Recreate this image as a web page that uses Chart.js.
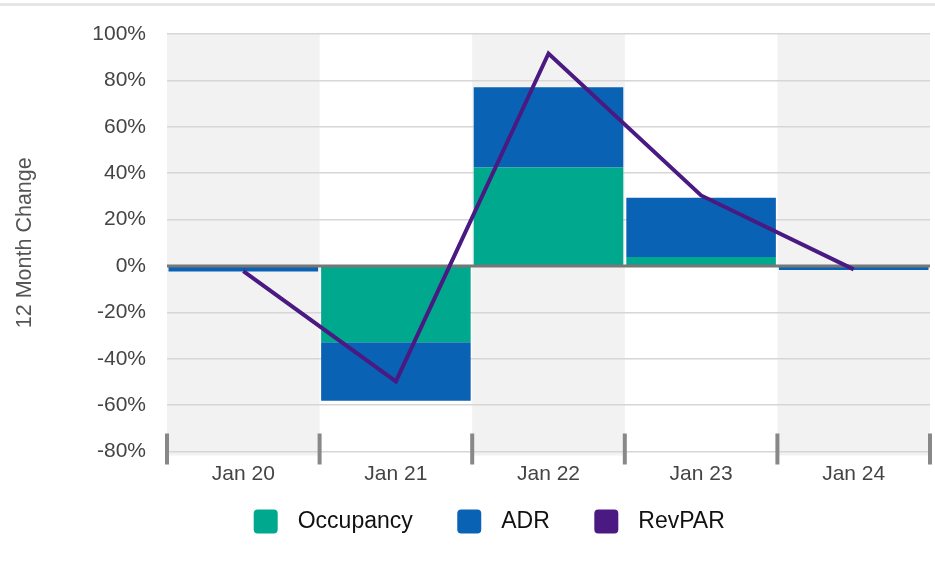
<!DOCTYPE html>
<html>
<head>
<meta charset="utf-8">
<script src="https://cdn.jsdelivr.net/npm/chart.js@4"></script>
<style>
  html, body { margin: 0; padding: 0; background: #fff; }
  #wrap { position: relative; width: 935px; height: 567px; }
  #topLine { position: absolute; left: 0; top: 3px; width: 935px; height: 3px; background: #e6e6e6; }
  canvas { position: absolute; left: 0; top: 0; }
</style>
</head>
<body>
<div id="wrap">
  <div id="topLine"></div>
  <canvas id="myChart" width="935" height="567"></canvas>
</div>
<script>
// 데이터
const categories = ["Jan 20", "Jan 21", "Jan 22", "Jan 23", "Jan 24"];
const occupancy = [0.2, -32.9, 42.4, 3.9, 0.2];
const adr = [-2.4, -25.2, 34.6, 25.5, -1.7];
const revpar = [-2.2, -49.8, 91.6, 30.4, -1.5];
const yTicks = [-80, -60, -40, -20, 0, 20, 40, 60, 80, 100];

const FONT = '"Liberation Sans", Arial, Helvetica, sans-serif';

// 회색 세로 띠 (Jan 20, Jan 22, Jan 24)
const bandPlugin = {
  id: "bands",
  afterLayout(chart) {
    // 범례를 조금 오른쪽으로
    chart.legend.left += 40;
  },
  beforeDraw(chart) {
    const { ctx, chartArea, scales } = chart;
    const x = scales.x;
    const half = (x.getPixelForValue(1) - x.getPixelForValue(0)) / 2;
    ctx.save();
    ctx.fillStyle = "#f2f2f2";
    categories.forEach((c, i) => {
      if (i % 2 === 0) {
        const cx = x.getPixelForValue(i);
        ctx.fillRect(cx - half, chartArea.top, half * 2, chartArea.bottom - chartArea.top + 4);
      }
    });
    ctx.restore();
  },
  // 0% 선은 막대 위, 꺾은선 아래
  beforeDatasetDraw(chart, args) {
    if (args.meta.type !== "line") return;
    const { ctx, chartArea, scales } = chart;
    const y0 = scales.y.getPixelForValue(0);
    ctx.save();
    ctx.strokeStyle = "#777777";
    ctx.lineWidth = 3;
    ctx.beginPath();
    ctx.moveTo(chartArea.left, y0);
    ctx.lineTo(chartArea.right, y0);
    ctx.stroke();
    ctx.restore();
  },
  // x축 구분 눈금
  afterDraw(chart) {
    const { ctx, chartArea, scales } = chart;
    const x = scales.x;
    const half = (x.getPixelForValue(1) - x.getPixelForValue(0)) / 2;
    ctx.save();
    ctx.strokeStyle = "#888888";
    ctx.lineWidth = 4;
    for (let i = 0; i <= categories.length; i++) {
      const px = x.getPixelForValue(0) - half + i * half * 2;
      ctx.beginPath();
      ctx.moveTo(px, chartArea.bottom - 18);
      ctx.lineTo(px, chartArea.bottom + 13);
      ctx.stroke();
    }
    ctx.restore();
  },
};

const ctx = document.getElementById("myChart").getContext("2d");

const myChart = new Chart(ctx, {
  type: "bar",
  data: {
    labels: categories,
    datasets: [
      {
        label: "Occupancy",
        data: occupancy,
        backgroundColor: "#00a88e",
        barPercentage: 0.98,
        categoryPercentage: 1,
        order: 1,
      },
      {
        label: "ADR",
        data: adr,
        backgroundColor: "#0a62b4",
        barPercentage: 0.98,
        categoryPercentage: 1,
        order: 1,
      },
      {
        type: "line",
        label: "RevPAR",
        data: revpar,
        borderColor: "#4a1a82",
        backgroundColor: "#4a1a82",
        borderWidth: 4,
        pointRadius: 0,
        tension: 0,
        fill: false,
        order: 0,
      },
    ],
  },
  options: {
    responsive: false,
    animation: false,
    layout: { padding: { top: 34, right: 5, left: 0, bottom: 15 } },
    plugins: {
      tooltip: { enabled: false },
      legend: {
        position: "bottom",
        labels: {
          font: { family: FONT, size: 23 },
          color: "#111111",
          boxWidth: 41,
          boxHeight: 41,
          padding: 36,
          useBorderRadius: true,
          borderRadius: 12.5,
          sort: (a, b) => a.datasetIndex - b.datasetIndex,
          generateLabels(chart) {
            const items = Chart.defaults.plugins.legend.labels.generateLabels(chart);
            items.forEach((it) => {
              it.strokeStyle = "#ffffff";
              it.lineWidth = 17;
            });
            return items;
          },
        },
      },
    },
    scales: {
      x: {
        stacked: true,
        offset: true,
        grid: { display: false, drawTicks: false },
        border: { display: false },
        ticks: {
          font: { family: FONT, size: 21 },
          color: "#444444",
          padding: 10,
        },
        afterFit(scale) {
          scale.height = 13.5;
          // 라벨이 잘리지 않게
          scale._computeLabelArea = () => undefined;
        },
      },
      y: {
        stacked: true,
        min: -80,
        max: 100,
        afterBuildTicks(scale) {
          scale.ticks = yTicks.map((v) => ({ value: v }));
        },
        grid: {
          color: "#d6d6d6",
          lineWidth: 1.5,
          drawTicks: false,
        },
        border: { display: false },
        ticks: {
          font: { family: FONT, size: 21 },
          color: "#444444",
          padding: 21,
          callback: (v) => v + "%",
        },
        title: {
          display: true,
          text: "12 Month Change",
          font: { family: FONT, size: 21.5 },
          color: "#555555",
          padding: { top: 12, bottom: 0 },
        },
        afterFit(scale) {
          scale.width = 167;
        },
      },
    },
  },
  plugins: [bandPlugin],
});
</script>
</body>
</html>
